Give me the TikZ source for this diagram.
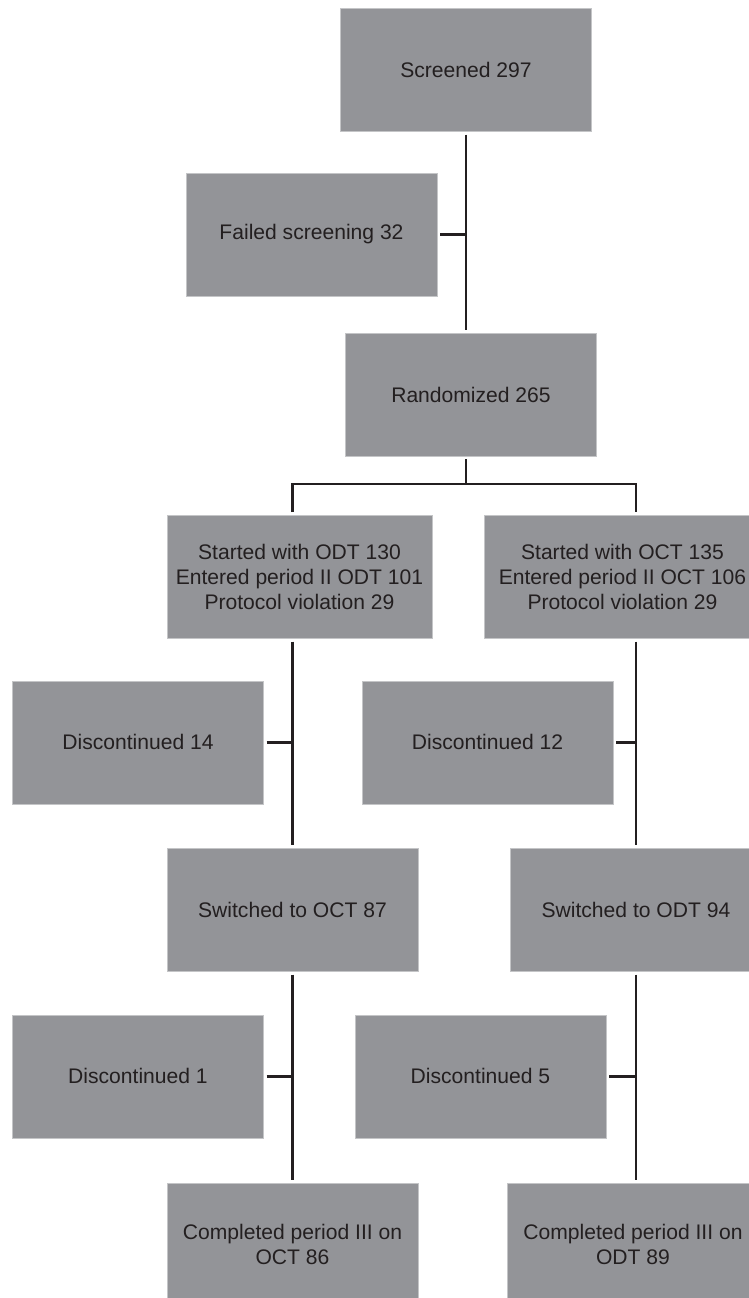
\documentclass[tikz,border=0pt]{standalone}
\usepackage{fontspec}
\setmainfont{Liberation Sans}
\usetikzlibrary{positioning}

\definecolor{boxgray}{RGB}{147,148,152}
\definecolor{boxedge}{RGB}{196,197,199}
\definecolor{inkgray}{RGB}{35,31,32}

\begin{document}
\begin{tikzpicture}
	\tikzstyle{box}=[rectangle, fill=boxgray, draw=boxedge, line width=0.4pt, text=inkgray, align=center,
		minimum width=7.53cm, minimum height=3.69cm, inner sep=0pt, font=\fontsize{18}{21.3}\selectfont]
	\tikzstyle{link}=[draw=inkgray, line width=0.07cm]

	\useasboundingbox (-13.98,2.10) rectangle (8.49,-36.84);
	\clip (-13.98,2.10) rectangle (8.49,-36.84);

	\node[box] (screened) {Screened 297};
	\node[box, below=1.23cm of screened, xshift=-4.635cm] (failed) {Failed screening 32};
	\node[box, below=6.03cm of screened, xshift=0.15cm] (random) {Randomized 265};
	\node[box, minimum width=7.95cm, below=1.77cm of random, xshift=-5.145cm] (startodt) {Started with ODT 130\\Entered period II ODT 101\\Protocol violation 29};
	\node[box, minimum width=8.28cm, right=1.56cm of startodt] (startoct) {Started with OCT 135\\Entered period II OCT 106\\Protocol violation 29};
	\node[box, below=1.26cm of startodt, xshift=-4.845cm] (disc14) {Discontinued 14};
	\node[box, right=2.94cm of disc14] (disc12) {Discontinued 12};
	\node[box, below=1.32cm of disc14, xshift=4.635cm] (swoct) {Switched to OCT 87};
	\node[box, right=2.76cm of swoct] (swodt) {Switched to ODT 94};
	\node[box, below=1.29cm of swoct, xshift=-4.635cm] (disc1) {Discontinued 1};
	\node[box, right=2.73cm of disc1] (disc5) {Discontinued 5};
	\node[box, below=1.35cm of disc1, xshift=4.635cm] (compoct) {Completed period III on\\OCT 86};
	\node[box, right=2.67cm of compoct] (compodt) {Completed period III on\\ODT 89};

	% screening
	\draw[link, shorten <=0.09cm, shorten >=0.09cm] (screened.south) -- (screened.south |- random.north);
	\draw[link, shorten <=0.09cm] (failed.east) -- (failed.east -| screened.south);

	% randomization split
	\draw[link, shorten <=0.09cm] (random.south -| screened.south) -- ++(0,-0.84) coordinate (split);
	\draw[link, shorten <=0.09cm, shorten >=0.09cm] (startodt.north -| swoct) |- (split) -| (startoct.north -| swodt);

	% ODT first
	\draw[link, shorten <=0.09cm, shorten >=0.09cm] (startodt.south -| swoct) -- (swoct.north);
	\draw[link, shorten <=0.09cm] (disc14.east) -- (disc14.east -| swoct);
	\draw[link, shorten <=0.09cm, shorten >=0.09cm] (swoct.south) -- (compoct.north);
	\draw[link, shorten <=0.09cm] (disc1.east) -- (disc1.east -| swoct);

	% OCT first
	\draw[link, shorten <=0.09cm, shorten >=0.09cm] (startoct.south -| swodt) -- (swodt.north);
	\draw[link, shorten <=0.09cm] (disc12.east) -- (disc12.east -| swodt);
	\draw[link, shorten <=0.09cm, shorten >=0.09cm] (swodt.south) -- (swodt.south |- compodt.north);
	\draw[link, shorten <=0.09cm] (disc5.east) -- (disc5.east -| swodt);
\end{tikzpicture}
\end{document}
